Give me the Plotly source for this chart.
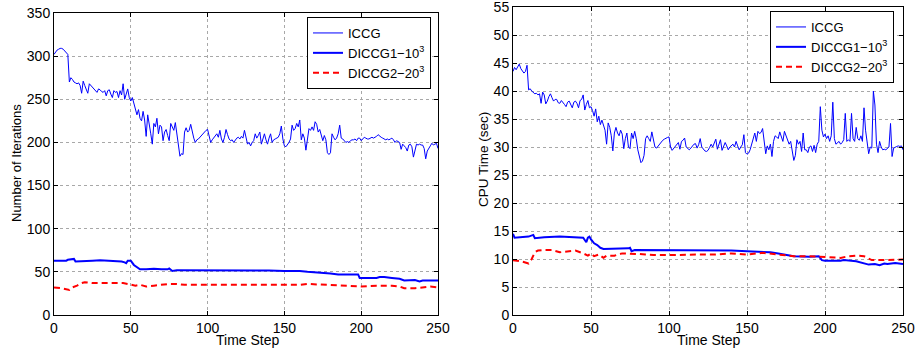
import plotly.graph_objects as go

# ---------------- data ----------------
steps = list(range(251))

iccg_iter = [302,305,307,308,309,309,308,306,304,302,270,275,273,270,269,268,269,266,257,271,
             266,260,257,268,266,265,262,260,258,262,261,259,258,260,254,260,261,256,252,260,
             258,259,252,260,255,268,250,256,262,252,248,252,245,240,232,238,228,225,236,226,
             207,232,218,210,198,222,218,228,210,220,218,202,212,215,208,202,222,218,214,223,
             210,195,184,187,186,212,217,212,214,221,212,205,200,203,204,206,208,211,213,214,
             215,208,200,203,205,208,210,206,214,204,200,206,215,209,204,202,203,200,203,205,
             206,204,207,205,214,205,198,200,196,200,202,210,205,208,212,198,205,210,203,198,
             205,210,200,203,204,205,206,210,219,204,196,195,197,200,204,220,214,216,222,218,
             226,203,210,205,191,205,216,214,218,214,224,221,212,215,207,202,208,203,188,186,
             188,210,206,203,205,210,220,205,204,202,200,201,200,202,203,203,204,202,205,205,
             202,204,206,205,204,204,205,206,205,206,207,209,207,206,205,204,203,204,203,204,
             205,203,200,202,201,200,192,198,196,194,190,197,198,195,183,192,198,197,198,197,
             197,193,181,190,194,196,199,197,198,199,193]

diccg1_iter_t = [0,8,9,13,14,20,25,30,35,40,44,46,47,48,50,52,54,56,60,65,70,74,75,77,80,90,100,110,120,130,
                 140,150,160,165,170,175,180,185,198,199,205,210,212,215,220,225,228,232,235,238,240,245,250]
diccg1_iter = [63,63,64,65,62,63,63,63.5,63,62,62,61,60,63,63,58,55,53,53,53.5,53,53,54,51,52,52,52,52,52,52,
               51.5,51,51,50,49.5,48.5,48,47,47,43,43,43,44,44,43,42,40,40,40.5,39,40,40,40]

diccg2_iter_t = [0,5,10,12,15,18,20,25,30,40,45,48,50,53,56,60,65,70,75,80,85,90,100,110,120,130,140,150,
                 160,165,175,185,200,210,220,225,228,235,240,245,250]
diccg2_iter = [32,31,29,32,34,37,38,37,37,37,37,36,35,34,35,33,34,35,36,36,35,35,35,35,35,35,35,35,
               35,36,35,34,33,34,34,33,31,31,32,33,32]

iccg_cpu = [43.5,44.2,43.8,44.2,44.8,44.0,43.5,43.2,43.5,44.6,40.2,40.4,40.0,39.7,39.5,39.6,39.3,39.5,37.8,39.8,
            39.3,37.7,38.2,39.0,39.5,38.8,38.2,38.5,38.5,37.9,37.8,38.3,38.0,37.6,37.2,38.0,38.2,37.4,37.0,38.0,
            38.2,37.8,37.0,38.3,38.5,39.3,36.6,37.6,38.3,37.0,37.2,36.5,35.5,36.8,34.5,35.5,34.0,34.8,33.8,33.0,
            30.5,34.3,33.5,32.0,29.3,32.5,33.5,32.5,32.0,33.0,32.3,29.7,31.5,32.5,30.0,29.7,32.5,31.5,32.8,31.5,
            29.5,28.5,27.2,27.5,28.5,31.5,32.0,31.5,31.0,32.7,31.5,30.0,29.8,30.2,30.5,30.8,31.2,31.4,31.6,31.7,
            31.8,30.0,29.4,29.8,30.2,30.5,30.8,29.6,31.0,31.2,31.6,30.0,29.8,29.5,29.8,30.2,30.5,30.6,29.8,30.4,
            31.5,30.0,29.6,29.3,29.2,29.4,29.9,30.5,30.0,30.6,31.4,29.6,30.4,31.3,29.4,30.0,30.8,30.2,29.5,30.0,
            30.2,30.5,30.0,31.0,30.2,29.5,30.0,30.4,32.2,29.0,28.7,28.9,29.5,30.5,31.5,32.5,31.0,32.8,32.4,32.6,
            33.3,31.0,28.8,30.2,29.5,30.5,28.3,31.0,32.0,31.8,31.5,32.7,31.8,31.0,32.8,32.0,31.6,30.5,31.0,29.0,
            27.6,28.5,31.3,30.5,31.0,29.2,32.5,29.5,29.5,29.0,30.0,30.2,29.2,30.3,29.0,30.5,31.0,37.2,33.0,31.8,
            32.3,31.5,32.0,31.0,32.0,38.0,31.5,30.5,30.8,31.0,30.5,30.8,31.3,36.0,31.0,31.3,31.0,36.0,31.5,31.0,
            33.5,31.5,31.2,32.0,31.0,37.0,33.0,30.5,28.8,30.0,29.8,40.0,37.5,30.5,29.0,31.0,30.0,29.5,29.6,29.5,
            29.7,30.0,34.2,28.3,29.8,30.0,30.1,30.2,30.1,30.2,29.5]

diccg1_cpu_t = [0,1,10,13,14,20,30,40,45,46,47,48,49,50,52,54,56,58,60,70,74,75,76,78,80,100,120,140,150,160,
                165,170,175,180,190,196,198,200,210,212,220,225,228,232,235,238,240,245,250]
diccg1_cpu = [14.5,13.8,14.0,14.3,13.7,13.9,14.0,13.8,13.8,13.4,13.0,13.8,14.0,13.5,12.8,12.5,12.0,11.8,11.8,11.9,
              11.9,12.0,11.4,11.6,11.6,11.6,11.6,11.5,11.4,11.3,11.2,11.0,10.7,10.5,10.4,10.5,9.8,9.7,9.7,9.8,
              9.6,9.3,9.0,9.1,8.9,9.2,9.1,9.3,9.1]

diccg2_cpu_t = [0,5,10,12,14,16,20,25,30,35,40,45,48,50,52,55,58,60,65,70,75,80,85,90,100,110,120,130,140,150,
                155,160,170,180,190,200,210,215,220,225,230,240,250]
diccg2_cpu = [9.8,9.6,9.2,10.0,11.2,11.5,11.6,11.6,11.2,11.4,11.5,11.0,10.6,11.0,10.5,10.8,10.2,10.6,10.6,11.0,
              11.0,10.9,10.8,10.7,10.7,10.8,10.8,10.8,11.0,10.8,11.0,11.1,10.8,10.5,10.5,10.4,10.2,10.5,10.6,10.5,
              9.8,9.8,9.9]

names = ["ICCG", "DICCG1\u221210<sup>3</sup>", "DICCG2\u221220<sup>3</sup>"]
x_ticks = [0, 50, 100, 150, 200, 250]
y1_ticks = [0, 50, 100, 150, 200, 250, 300, 350]
y2_ticks = [0, 5, 10, 15, 20, 25, 30, 35, 40, 45, 50, 55]

# ---------------- figure ----------------
W, H = 916, 356
BLUE = "#0000ff"
RED = "#ff0000"
FONT = "Liberation Sans, Arial, sans-serif"

fig = go.Figure()

def add_set(xa, ya, leg, it, d1t, d1, d2t, d2):
    fig.add_trace(go.Scatter(x=steps, y=it, mode="lines", name=names[0], xaxis=xa, yaxis=ya,
                             legend=leg, line=dict(color=BLUE, width=1)))
    fig.add_trace(go.Scatter(x=d1t, y=d1, mode="lines", name=names[1], xaxis=xa, yaxis=ya,
                             legend=leg, line=dict(color=BLUE, width=2)))
    fig.add_trace(go.Scatter(x=d2t, y=d2, mode="lines", name=names[2], xaxis=xa, yaxis=ya,
                             legend=leg, line=dict(color=RED, width=2, dash="6px,4px")))

add_set("x", "y", "legend", iccg_iter, diccg1_iter_t, diccg1_iter, diccg2_iter_t, diccg2_iter)
add_set("x2", "y2", "legend2", iccg_cpu, diccg1_cpu_t, diccg1_cpu, diccg2_cpu_t, diccg2_cpu)

def px_x(p):
    return p / W

def px_y(p):
    return 1 - p / H

axis_common = dict(showline=True, linecolor="black", linewidth=1, mirror="ticks",
                   ticks="inside", ticklen=4, tickcolor="black",
                   showgrid=True, gridcolor="#a8a8a8", griddash="dot", gridwidth=1,
                   zeroline=False, automargin=False, ticklabeloverflow="allow",
                   tickfont=dict(family=FONT, size=14, color="black"))

fig.update_layout(
    width=W, height=H,
    margin=dict(l=0, r=0, t=0, b=0),
    paper_bgcolor="white", plot_bgcolor="white",
    font=dict(family=FONT, size=13, color="black"),
    xaxis=dict(domain=[px_x(54), px_x(438)], range=[0, 250], tickvals=x_ticks, anchor="y", **axis_common),
    yaxis=dict(domain=[px_y(315), px_y(13)], range=[0, 350], tickvals=y1_ticks, anchor="x", **axis_common),
    xaxis2=dict(domain=[px_x(513), px_x(903)], range=[0, 250], tickvals=x_ticks, anchor="y2", **axis_common),
    yaxis2=dict(domain=[px_y(315), px_y(7)], range=[0, 55.0001], tickvals=y2_ticks, anchor="x2", **axis_common),
    legend=dict(x=px_x(307), y=px_y(17), xanchor="left", yanchor="top",
                bgcolor="white", bordercolor="black", borderwidth=1,
                font=dict(family=FONT, size=13, color="black"), tracegroupgap=0),
    legend2=dict(x=px_x(770), y=px_y(11), xanchor="left", yanchor="top",
                 bgcolor="white", bordercolor="black", borderwidth=1,
                 font=dict(family=FONT, size=13, color="black"), tracegroupgap=0),
    showlegend=True,
)

annots = [
    dict(text="Number of Iterations", x=px_x(17), y=px_y(163), textangle=-90, size=13),
    dict(text="Time Step", x=px_x(247), y=px_y(340), textangle=0, size=14),
    dict(text="CPU Time (sec)", x=px_x(483), y=px_y(160), textangle=-90, size=13.5),
    dict(text="Time Step", x=px_x(708), y=px_y(340), textangle=0, size=14),
]
for a in annots:
    fig.add_annotation(xref="paper", yref="paper", showarrow=False, xanchor="center", yanchor="middle",
                       text=a["text"], x=a["x"], y=a["y"], textangle=a["textangle"],
                       font=dict(family=FONT, size=a["size"], color="black"))

fig.write_html("out.html")
